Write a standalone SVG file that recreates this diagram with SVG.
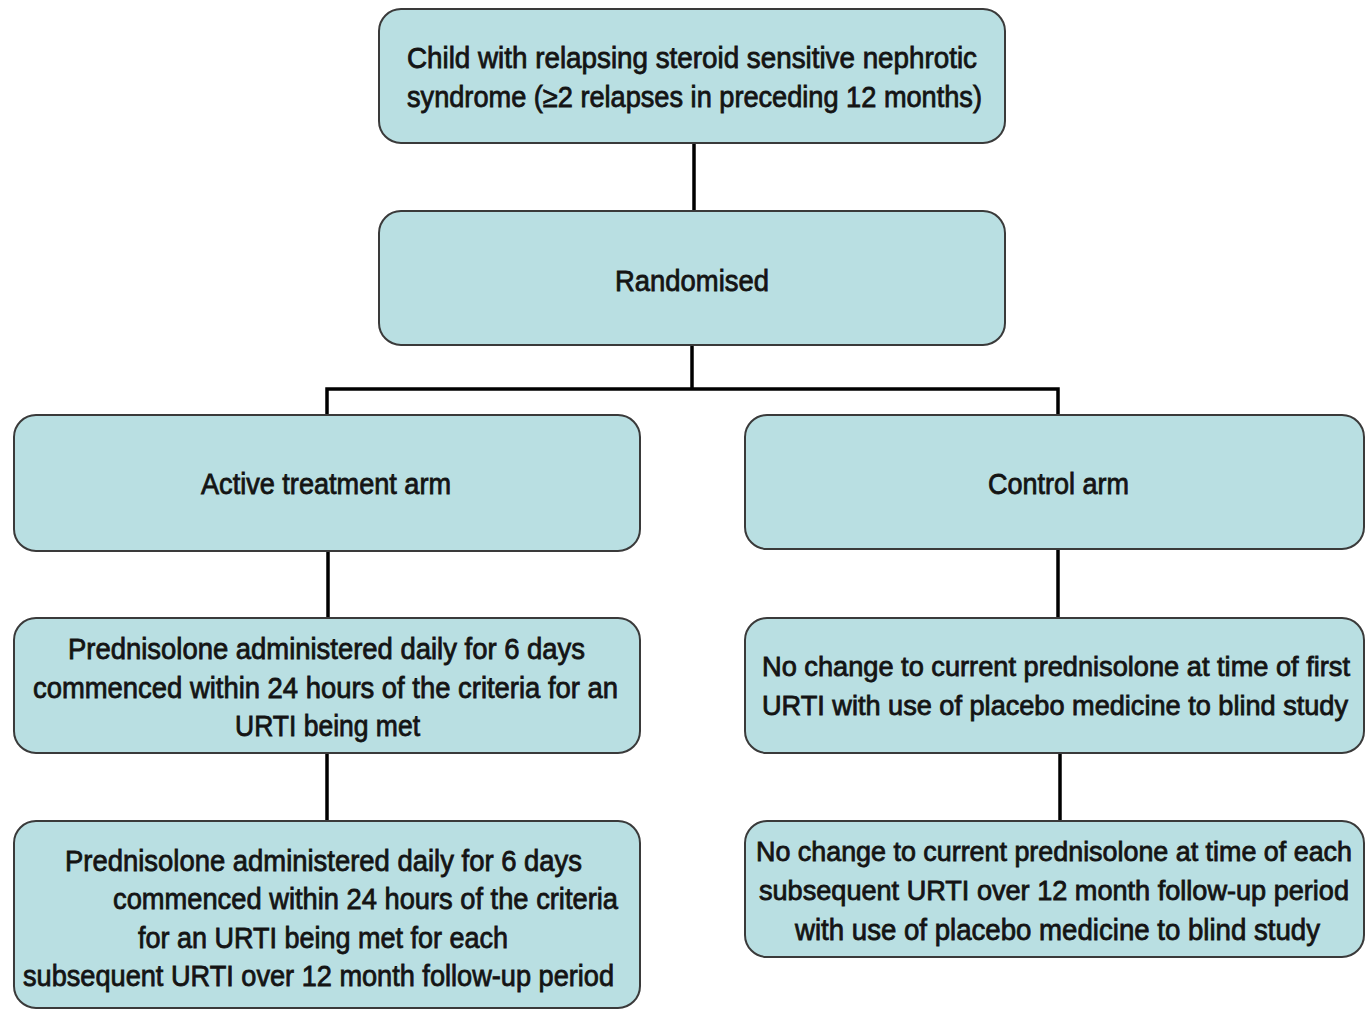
<svg xmlns="http://www.w3.org/2000/svg" width="1366" height="1009" viewBox="0 0 1366 1009">
<defs>
<style>
.box{fill:#b9dfe2;stroke:#3a3a3a;stroke-width:2}
.t{font-family:"Liberation Sans",Arial,sans-serif;font-size:29px;fill:#141414;stroke:#141414;stroke-width:0.8}
.s{font-size:27px}
.c{fill:none;stroke:#000;stroke-width:3.5}
</style>
</defs>
<rect x="0" y="0" width="1366" height="1009" fill="#fff"/>
<g id="connectors">
<line class="c" x1="694" y1="143" x2="694" y2="211"/>
<line class="c" x1="692" y1="345" x2="692" y2="389"/>
<polyline class="c" points="327,415 327,389 1058,389 1058,415"/>
<line class="c" x1="328" y1="551" x2="328" y2="618"/>
<line class="c" x1="1058" y1="549" x2="1058" y2="618"/>
<line class="c" x1="327" y1="753" x2="327" y2="821"/>
<line class="c" x1="1060" y1="753" x2="1060" y2="821"/>
</g>
<g id="n1">
<rect class="box" x="379" y="9" width="626" height="134" rx="22"/>
<text class="t" x="407" y="68" textLength="570" lengthAdjust="spacingAndGlyphs">Child with relapsing steroid sensitive nephrotic</text>
<text class="t" x="407" y="107" textLength="575" lengthAdjust="spacingAndGlyphs">syndrome (≥2 relapses in preceding 12 months)</text>
</g>
<g id="n2">
<rect class="box" x="379" y="211" width="626" height="134" rx="22"/>
<text class="t" x="615" y="291" textLength="154" lengthAdjust="spacingAndGlyphs">Randomised</text>
</g>
<g id="n3">
<rect class="box" x="14" y="415" width="626" height="136" rx="22"/>
<text class="t" x="201" y="494" textLength="250" lengthAdjust="spacingAndGlyphs">Active treatment arm</text>
</g>
<g id="n4">
<rect class="box" x="745" y="415" width="619" height="134" rx="22"/>
<text class="t" x="988" y="494" textLength="141" lengthAdjust="spacingAndGlyphs">Control arm</text>
</g>
<g id="n5">
<rect class="box" x="14" y="618" width="626" height="135" rx="22"/>
<text class="t" x="68" y="659" textLength="517" lengthAdjust="spacingAndGlyphs">Prednisolone administered daily for 6 days</text>
<text class="t" x="33" y="698" textLength="585" lengthAdjust="spacingAndGlyphs">commenced within 24 hours of the criteria for an</text>
<text class="t" x="235" y="736" textLength="185" lengthAdjust="spacingAndGlyphs">URTI being met</text>
</g>
<g id="n6">
<rect class="box" x="745" y="618" width="619" height="135" rx="22"/>
<text class="t s" x="762" y="676" textLength="588" lengthAdjust="spacingAndGlyphs">No change to current prednisolone at time of first</text>
<text class="t s" x="762" y="715" textLength="586" lengthAdjust="spacingAndGlyphs">URTI with use of placebo medicine to blind study</text>
</g>
<g id="n7">
<rect class="box" x="14" y="821" width="626" height="187" rx="22"/>
<text class="t" x="65" y="871" textLength="517" lengthAdjust="spacingAndGlyphs">Prednisolone administered daily for 6 days</text>
<text class="t" x="113" y="909" textLength="505" lengthAdjust="spacingAndGlyphs">commenced within 24 hours of the criteria</text>
<text class="t" x="138" y="948" textLength="370" lengthAdjust="spacingAndGlyphs">for an URTI being met for each</text>
<text class="t" x="23" y="986" textLength="591" lengthAdjust="spacingAndGlyphs">subsequent URTI over 12 month follow-up period</text>
</g>
<g id="n8">
<rect class="box" x="745" y="821" width="619" height="136" rx="22"/>
<text class="t s" x="756" y="861" textLength="596" lengthAdjust="spacingAndGlyphs">No change to current prednisolone at time of each</text>
<text class="t s" x="759" y="900" textLength="590" lengthAdjust="spacingAndGlyphs">subsequent URTI over 12 month follow-up period</text>
<text class="t" x="795" y="940" textLength="525" lengthAdjust="spacingAndGlyphs">with use of placebo medicine to blind study</text>
</g>
</svg>
